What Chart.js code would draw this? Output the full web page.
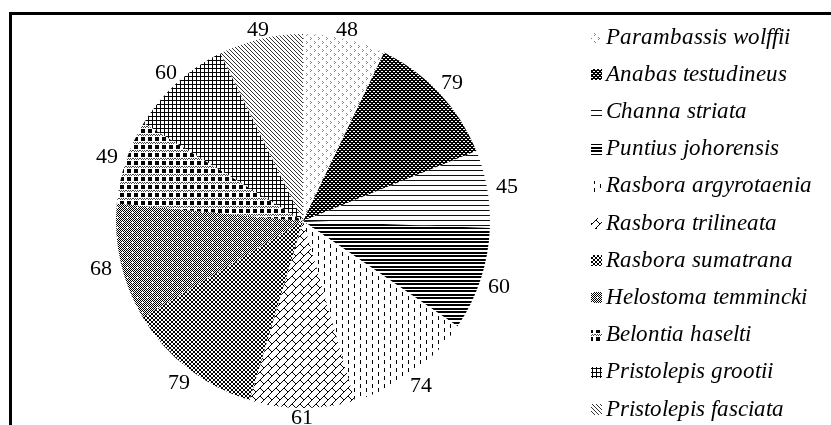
<!DOCTYPE html>
<html>
<head>
<meta charset="utf-8">
<script src="https://cdn.jsdelivr.net/npm/chart.js@4.4.1/dist/chart.umd.min.js"></script>
<style>
  @font-face { font-family: 'RefSerif'; font-style: normal;
    src: local('Liberation Serif'), local('LiberationSerif'), local('LiberationSerif-Regular'), local('Times New Roman'), local('DejaVu Serif'); }
  @font-face { font-family: 'RefSerif'; font-style: italic;
    src: local('Liberation Serif Italic'), local('LiberationSerif-Italic'), local('Times New Roman Italic'), local('DejaVu Serif Italic'), local('DejaVuSerif-Italic'); }
  html, body { margin: 0; padding: 0; background: #fff; }
  #wrap { position: relative; width: 831px; height: 425px; overflow: hidden; }
  #frame { position: absolute; left: 9px; top: 12px; width: 900px; height: 500px;
           border-top: 3px solid #000; border-left: 3px solid #000; pointer-events: none; }
  .probe { position: absolute; left: -999px; font-family: 'RefSerif'; }
</style>
</head>
<body>
<div id="wrap">
  <canvas id="c"></canvas>
  <div id="frame"></div>
</div>
<span class="probe">48</span><span class="probe" style="font-style:italic">Rasbora</span>
<script>
// species (legend order = slice order, clockwise from 12 o'clock)
const categories = [
  'Parambassis wolffii', 'Anabas testudineus', 'Channa striata', 'Puntius johorensis',
  'Rasbora argyrotaenia', 'Rasbora trilineata', 'Rasbora sumatrana', 'Helostoma temmincki',
  'Belontia haselti', 'Pristolepis grootii', 'Pristolepis fasciata'
];
const counts = [48, 79, 45, 60, 74, 61, 79, 68, 49, 60, 49];

const SERIF = '"RefSerif", "Liberation Serif", "Times New Roman", "DejaVu Serif", serif';
const ctx = document.getElementById('c').getContext('2d');

// small pixel tiles -> canvas patterns (black & white fills like the original)
function tile(w, h, draw) {
  const c = document.createElement('canvas');
  c.width = w; c.height = h;
  const g = c.getContext('2d');
  g.fillStyle = '#fff';
  g.fillRect(0, 0, w, h);
  draw(g, (x, y, col) => { g.fillStyle = col || '#000'; g.fillRect(x, y, 1, 1); });
  return ctx.createPattern(c, 'repeat');
}
function rows(p, list) {
  list.forEach((r, y) => [...r].forEach((ch, x) => ch === '#' && p(x, y)));
}

const fills = [
  // divot
  tile(8, 8, (g, p) => { [[2,1],[3,2],[2,3],[6,5],[7,6],[6,7]].forEach(([x, y]) => p(x, y, '#888')); }),
  // trellis (dark)
  tile(4, 4, (g, p) => rows(p, ['####', '.##.', '####', '#..#'])),
  // narrow horizontal
  tile(1, 5, (g, p) => { p(0, 0, '#111'); }),
  // dark horizontal
  tile(1, 7, (g, p) => { [0, 1, 3, 4].forEach(y => p(0, y)); }),
  // dashed vertical
  tile(12, 8, (g, p) => { for (let i = 0; i < 4; i++) { p(0, i); p(6, i + 4); } }),
  // diagonal brick
  tile(8, 8, (g, p) => rows(p, ['.......#', '......#.', '.....#..', '....#...', '...##...', '..#..#..', '.#....#.', '#......#'])),
  // dotted rings
  tile(4, 4, (g, p) => rows(p, ['.##.', '#..#', '#..#', '.##.'])),
  // grey with white crosses
  tile(10, 10, (g, p) => {
    for (let y = 0; y < 10; y++) for (let x = 0; x < 10; x++) if ((x + y) % 2 === 0) p(x, y);
    [[2, 2], [7, 7]].forEach(([cx, cy]) => {
      [[0,0],[1,0],[-1,0],[0,1],[0,-1]].forEach(([dx, dy]) => p(cx + dx, cy + dy, '#fff'));
    });
  }),
  // black squares with grey bands
  tile(7, 8, (g, p) => {
    [6, 7].forEach(y => { for (let x = 0; x < 7; x++) if ((x + y) % 2 === 0) p(x, y, '#444'); });
    for (let y = 1; y < 5; y++) for (let x = 1; x < 5; x++) p(x, y);
  }),
  // small grid
  tile(4, 4, (g, p) => { for (let i = 0; i < 4; i++) { p(i, 0); p(0, i); } }),
  // downward diagonal
  tile(4, 4, (g, p) => { for (let i = 0; i < 4; i++) p(i, i, '#333'); })
];

const outsideLabels = {
  id: 'outsideLabels',
  afterDatasetsDraw(chart) {
    const c = chart.ctx;
    const meta = chart.getDatasetMeta(0);
    c.save();
    c.font = '22px ' + SERIF;
    c.fillStyle = '#000';
    c.textAlign = 'center';
    c.textBaseline = 'middle';
    meta.data.forEach((arc, i) => {
      const a = arc.getProps(['x', 'y', 'startAngle', 'endAngle', 'outerRadius'], true);
      const mid = (a.startAngle + a.endAngle) / 2;
      const r = a.outerRadius + 8 + 12 * Math.abs(Math.cos(mid));
      c.fillText(String(chart.data.datasets[0].data[i]), a.x + Math.cos(mid) * r, a.y + Math.sin(mid) * r + 2);
    });
    c.restore();
  }
};

const sideLegend = {
  id: 'sideLegend',
  afterDraw(chart) {
    const c = chart.ctx;
    const bg = chart.data.datasets[0].backgroundColor;
    c.save();
    c.font = 'italic 23px ' + SERIF;
    c.textBaseline = 'middle';
    chart.data.labels.forEach((name, i) => {
      const y = 37.5 + i * 37.2;
      c.fillStyle = bg[i];
      c.fillRect(591, Math.round(y - 5.5), 11, 11);
      c.fillStyle = '#000';
      c.fillText(name, 606, y);
    });
    c.restore();
  }
};

function draw() {
  new Chart(ctx, {
    type: 'pie',
    data: {
      labels: categories,
      datasets: [{
        data: counts,
        backgroundColor: fills,
        borderWidth: 0
      }]
    },
    options: {
      responsive: true,
      maintainAspectRatio: false,
      animation: false,
      layout: { padding: { left: 116, right: 341, top: 34, bottom: 17 } },
      plugins: {
        legend: { display: false },
        tooltip: { enabled: false }
      }
    },
    plugins: [outsideLabels, sideLegend]
  });
}

Promise.all([
  document.fonts.load('22px RefSerif'),
  document.fonts.load('italic 23px RefSerif')
]).then(draw, draw);
</script>
</body>
</html>
